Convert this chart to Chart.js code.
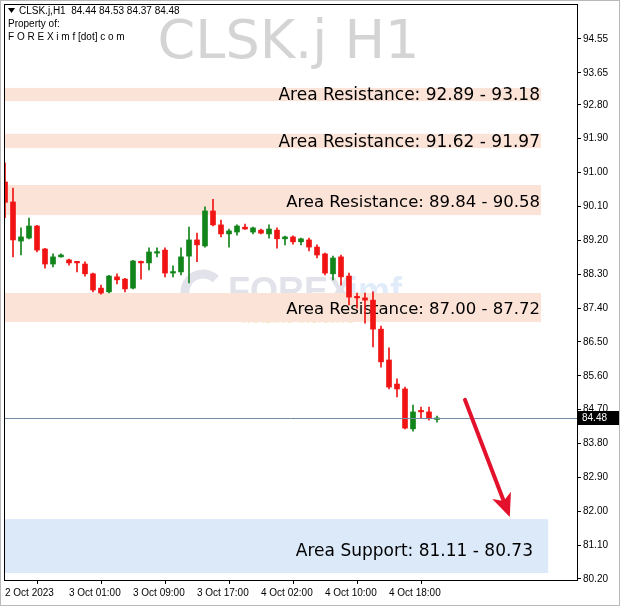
<!DOCTYPE html>
<html>
<head>
<meta charset="utf-8">
<script src="https://cdn.jsdelivr.net/npm/chart.js@4.4.0/dist/chart.umd.min.js"></script>
<style>
html,body{margin:0;padding:0;background:#fff;}
#wrap{width:620px;height:606px;position:relative;}
canvas{display:block;}
</style>
</head>
<body>
<div id="wrap"><canvas id="c" width="620" height="606"></canvas></div>
<script>
// ---- data (CLSK.j, H1) ----
const barIndex = [0,1,2,3,4,5,6,7,8,9,10,11,12,13,14,15,16,17,18,19,20,21,22,23,24,25,26,27,28,29,30,31,32,33,34,35,36,37,38,39,40,41,42,43,44,45,46,47,48,49,50,51,52,53,54];
const openV  = [90.75,90.22,89.18,89.26,89.58,88.97,88.57,88.76,88.68,88.63,88.57,88.31,87.93,87.83,88.23,88.17,87.93,88.63,88.60,88.86,88.94,88.33,88.36,88.78,89.21,89.05,89.98,89.61,89.37,89.42,89.55,89.42,89.47,89.37,89.47,89.24,89.29,89.16,89.21,89.02,88.84,88.31,88.76,88.25,87.69,87.67,87.61,86.84,86.02,85.38,85.25,84.19,84.66,84.64,84.44];
const highV  = [91.26,90.59,89.53,89.79,89.60,88.99,88.84,88.84,88.70,88.64,88.63,88.33,88.01,88.27,88.31,88.19,88.67,88.65,89.00,89.00,89.00,88.52,89.00,89.55,89.39,90.09,90.29,89.74,89.50,89.61,89.63,89.55,89.50,89.61,89.53,89.31,89.32,89.26,89.26,89.08,88.86,88.78,88.81,88.33,87.80,87.80,87.83,86.92,86.34,85.52,85.30,84.82,84.77,84.77,84.53];
const lowV   = [89.80,88.76,88.81,89.24,88.89,88.46,88.49,88.75,88.54,88.36,88.25,87.83,87.77,87.80,88.04,87.83,87.91,88.17,88.41,88.76,88.23,88.23,88.28,88.07,88.63,89.02,89.58,89.29,89.02,89.34,89.49,89.37,89.37,89.26,88.99,89.08,89.10,89.08,88.92,88.73,88.28,88.15,88.01,87.48,87.40,87.00,86.37,85.83,85.25,85.04,84.19,84.13,84.48,84.42,84.37];
const closeV = [90.21,89.21,89.29,89.58,88.94,88.57,88.76,88.81,88.60,88.60,88.31,87.88,87.80,88.25,88.15,87.91,88.65,88.60,88.89,88.89,88.33,88.36,88.76,89.21,89.08,89.98,89.61,89.37,89.45,89.58,89.50,89.53,89.39,89.50,89.24,89.29,89.16,89.24,89.02,88.81,88.33,88.73,88.23,87.69,87.67,87.61,86.84,85.97,85.30,85.25,84.21,84.64,84.64,84.46,84.48];

const yTickValues = [80.20,81.10,82.00,82.90,83.80,84.70,85.60,86.50,87.40,88.30,89.20,90.10,91.00,91.90,92.80,93.65,94.55];
const xTickPos    = [0,8,16,24,32,40,48];
const xTickText   = ["2 Oct 2023","3 Oct 01:00","3 Oct 09:00","3 Oct 17:00","4 Oct 02:00","4 Oct 10:00","4 Oct 18:00"];

// zones: drawn extent (low/high) and the labelled values
const resLow   = [92.90, 91.65, 89.87, 87.03];
const resHigh  = [93.25, 92.03, 90.67, 87.80];
const resLabA  = ["92.89","91.62","89.84","87.00"];
const resLabB  = ["93.18","91.97","90.58","87.72"];
const resMid   = [93.035, 91.795, 90.21, 87.36];
const supLow   = [80.36];
const supHigh  = [81.79];
const supLabA  = ["81.11"];
const supLabB  = ["80.73"];
const supMid   = [80.92];

const lastPrice = 84.48;
const headerOHLC = ["84.44","84.53","84.37","84.48"];
const arrowFrom = [57.5, 84.96];
const arrowTo   = [63.1, 81.85];

// ---- drawing ----
const UP = '#11841a', DN = '#f01414';
const colors = barIndex.map(i => closeV[i] >= openV[i] ? UP : DN);
const FONT = "'Liberation Sans', Arial, sans-serif";
const DV = "'DejaVu Sans', Verdana, sans-serif";

const decor = {
  id: 'decor',
  beforeDraw(chart) {
    const c = chart.ctx;
    c.save();
    c.fillStyle = '#fff';
    c.fillRect(0, 0, chart.width, chart.height);
    c.restore();
  },
  beforeDatasetsDraw(chart) {
    const c = chart.ctx, a = chart.chartArea, xs = chart.scales.x, ys = chart.scales.y;
    c.save();
    c.beginPath(); c.rect(a.left, a.top, a.right - a.left, a.bottom - a.top); c.clip();
    // watermark title
    c.fillStyle = '#d4d4d4';
    c.font = '54px ' + DV;
    c.textAlign = 'center'; c.textBaseline = 'alphabetic';
    c.fillText('CLSK.j H1', (a.left + a.right) / 2 - 2, 58);
    // faint logo
    c.strokeStyle = 'rgba(120,125,160,0.22)';
    c.lineWidth = 9;
    c.beginPath(); c.arc(203, 292, 18, 0.3, Math.PI * 1.75); c.stroke();
    c.font = 'bold 36px ' + FONT;
    c.textAlign = 'left'; c.textBaseline = 'middle';
    c.fillStyle = 'rgba(120,125,160,0.22)';
    c.fillText('FOREX', 228, 293);
    c.fillStyle = 'rgba(120,170,230,0.22)';
    c.fillText('imf', 348, 293);
    c.font = 'bold 12px ' + FONT;
    c.fillStyle = 'rgba(220,200,100,0.35)';
    c.fillText('TRADING INSIGHTS', 240, 320);
    // resistance bands
    const xr = xs.getPixelForValue(67);
    c.fillStyle = '#fce3d7';
    for (let i = 0; i < resLow.length; i++) {
      const y1 = ys.getPixelForValue(resHigh[i]), y2 = ys.getPixelForValue(resLow[i]);
      c.fillRect(a.left, y1, xr - a.left, y2 - y1);
    }
    // support band
    const xs2 = xs.getPixelForValue(67.9);
    c.fillStyle = '#dbe9f9';
    for (let i = 0; i < supLow.length; i++) {
      const y1 = ys.getPixelForValue(supHigh[i]), y2 = ys.getPixelForValue(supLow[i]);
      c.fillRect(a.left, y1, xs2 - a.left, y2 - y1);
    }
    // zone labels
    c.fillStyle = '#000';
    c.textAlign = 'right'; c.textBaseline = 'middle';
    for (let i = 0; i < resLow.length; i++) {
      c.font = (i < 2 ? 17 : 16.5) + 'px ' + DV;
      c.fillText('Area Resistance: ' + resLabA[i] + ' - ' + resLabB[i], xr - 1, ys.getPixelForValue(resMid[i]));
    }
    c.font = '17px ' + DV;
    for (let i = 0; i < supLow.length; i++) {
      c.fillText('Area Support: ' + supLabA[i] + ' - ' + supLabB[i], xs.getPixelForValue(66), ys.getPixelForValue(supMid[i]));
    }
    c.restore();
  },
  afterDatasetsDraw(chart) {
    const c = chart.ctx, a = chart.chartArea, xs = chart.scales.x, ys = chart.scales.y;
    c.save();
    // last price line
    const yp = Math.round(ys.getPixelForValue(lastPrice)) + 0.5;
    c.strokeStyle = '#7389a4'; c.lineWidth = 1;
    c.beginPath(); c.moveTo(a.left, yp); c.lineTo(a.right, yp); c.stroke();
    // arrow
    const x1 = xs.getPixelForValue(arrowFrom[0]), y1 = ys.getPixelForValue(arrowFrom[1]);
    const x2 = xs.getPixelForValue(arrowTo[0]), y2 = ys.getPixelForValue(arrowTo[1]);
    const ang = Math.atan2(y2 - y1, x2 - x1);
    const hl = 20, hw = 10;
    const bx = x2 - hl * Math.cos(ang), by = y2 - hl * Math.sin(ang);
    c.strokeStyle = '#e3112b'; c.fillStyle = '#e3112b';
    c.lineWidth = 4; c.lineCap = 'round';
    c.beginPath(); c.moveTo(x1, y1); c.lineTo(bx + 4 * Math.cos(ang), by + 4 * Math.sin(ang)); c.stroke();
    c.beginPath();
    c.moveTo(x2, y2);
    c.lineTo(bx + hw * Math.sin(ang) - 3 * Math.cos(ang), by - hw * Math.cos(ang) - 3 * Math.sin(ang));
    c.lineTo(bx + 3 * Math.cos(ang), by + 3 * Math.sin(ang));
    c.lineTo(bx - hw * Math.sin(ang) - 3 * Math.cos(ang), by + hw * Math.cos(ang) - 3 * Math.sin(ang));
    c.closePath(); c.fill();
    c.restore();
  },
  afterDraw(chart) {
    const c = chart.ctx, a = chart.chartArea, ys = chart.scales.y;
    c.save();
    // plot frame
    c.strokeStyle = '#000'; c.lineWidth = 1;
    c.strokeRect(a.left + 0.5, a.top + 0.5, a.right - a.left, a.bottom - a.top);
    // outer border
    c.strokeStyle = '#b9b9b9';
    c.strokeRect(0.5, 0.5, chart.width - 1, chart.height - 1);
    // header text
    c.fillStyle = '#000';
    c.beginPath(); c.moveTo(8, 8); c.lineTo(15, 8); c.lineTo(11.5, 13); c.closePath(); c.fill();
    c.font = '10px ' + FONT; c.textAlign = 'left'; c.textBaseline = 'middle';
    c.fillText('CLSK.j,H1  ' + headerOHLC.join(' '), 19, 11);
    c.fillText('Property of:', 8, 24);
    c.fillText('F O R E X i m f [dot] c o m', 8, 37);
    // price tag
    const yp = Math.round(ys.getPixelForValue(lastPrice));
    c.fillStyle = '#000';
    c.fillRect(a.right + 1, yp - 7, 41, 14);
    c.fillStyle = '#fff'; c.font = '10px ' + FONT;
    c.fillText(lastPrice.toFixed(2), a.right + 5, yp);
    c.restore();
  }
};

new Chart(document.getElementById('c'), {
  type: 'bar',
  data: {
    datasets: [
      {
        label: 'wick',
        data: barIndex.map(i => ({ x: i, y: [lowV[i], highV[i]] })),
        backgroundColor: colors,
        borderWidth: 0,
        barThickness: 1,
        grouped: false,
        order: 2
      },
      {
        label: 'body',
        data: barIndex.map(i => ({ x: i, y: [openV[i], closeV[i]] })),
        backgroundColor: colors,
        borderWidth: 0,
        barThickness: 5,
        minBarLength: 1.5,
        grouped: false,
        order: 1
      }
    ]
  },
  options: {
    responsive: false,
    animation: false,
    devicePixelRatio: 1,
    layout: { padding: { left: 4, top: 4, right: 0, bottom: 0 } },
    plugins: { legend: { display: false }, tooltip: { enabled: false } },
    scales: {
      x: {
        type: 'linear',
        min: -0.125,
        max: 71.5,
        offset: false,
        afterBuildTicks: s => { s.ticks = xTickPos.map(v => ({ value: v })); },
        afterFit: s => { s.height = 26; s.paddingLeft = 0; s.paddingRight = 0; },
        grid: { drawOnChartArea: false, drawTicks: true, tickLength: 4, color: '#000' },
        border: { display: true, color: '#000' },
        ticks: {
          autoSkip: false, maxRotation: 0, align: 'start', padding: 3,
          color: '#000', font: { family: FONT, size: 10 },
          callback: (v) => { const k = xTickPos.indexOf(v); return k >= 0 ? xTickText[k] : ''; }
        }
      },
      y: {
        position: 'right',
        min: 80.173,
        max: 95.48,
        afterBuildTicks: s => { s.ticks = yTickValues.map(v => ({ value: v })); },
        afterFit: s => { s.width = 43; s.paddingTop = 0; s.paddingBottom = 0; },
        grid: { drawOnChartArea: false, drawTicks: true, tickLength: 4, color: '#000' },
        border: { display: true, color: '#000' },
        ticks: {
          padding: 2, color: '#000', font: { family: FONT, size: 10 },
          callback: v => Number(v).toFixed(2)
        }
      }
    }
  },
  plugins: [decor]
});
</script>
</body>
</html>
